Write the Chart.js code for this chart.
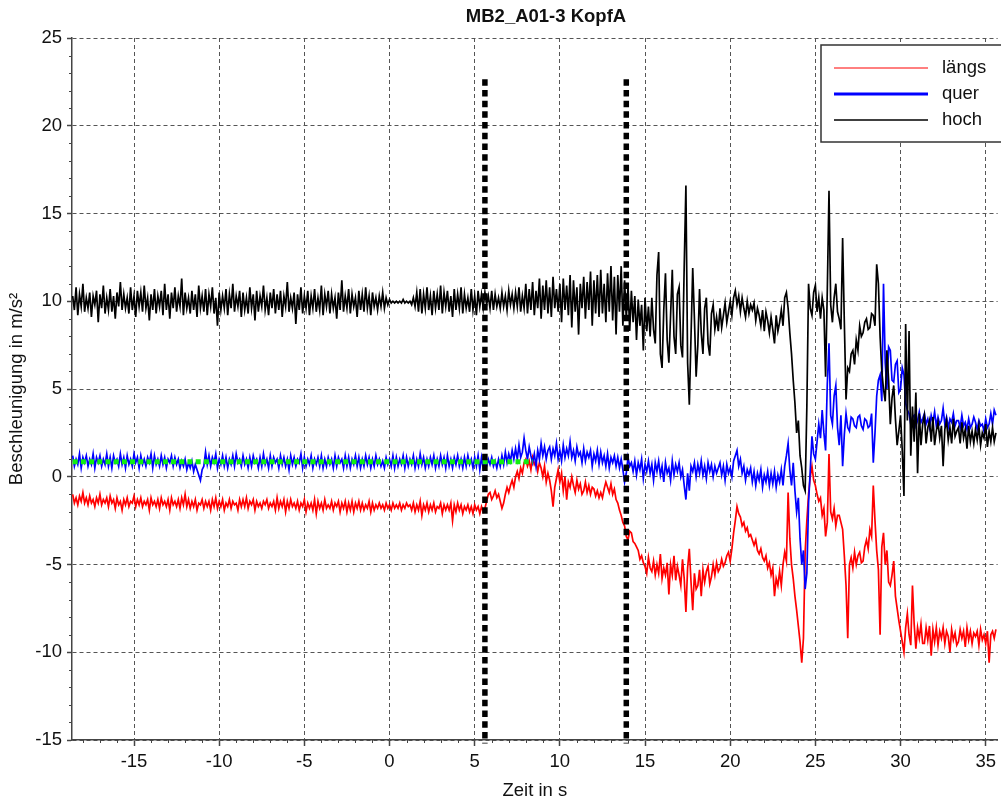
<!DOCTYPE html>
<html>
<head>
<meta charset="utf-8">
<title>MB2_A01-3 KopfA</title>
<script src="https://cdn.jsdelivr.net/npm/chart.js@4.4.0/dist/chart.umd.min.js"></script>
<style>
  html, body { margin: 0; padding: 0; background: #fff; }
  canvas { display: block; }
</style>
</head>
<body>
<canvas id="chart" width="1001" height="803"></canvas>
<script>
// sampling of the recorded signals (seconds)
const tStart = -18.6;
const tStep = 0.1;

// längs (red), one row = 1 s
const laengs = [
  -1.0, -1.5, -1.2, -1.6, -1.1, -1.4, -0.9, -1.5, -1.2, -1.6,
  -1.1, -1.5, -1.3, -1.7, -1.2, -1.5, -1.0, -1.6, -1.3, -1.5,
  -1.2, -1.7, -1.1, -1.5, -1.3, -1.8, -1.2, -1.6, -1.4, -1.9,
  -1.3, -1.6, -1.2, -1.7, -1.4, -1.5, -1.1, -1.7, -1.3, -1.6,
  -1.2, -1.7, -1.4, -1.6, -1.3, -1.9, -1.2, -1.6, -1.4, -1.7,
  -1.3, -1.8, -1.2, -1.6, -1.4, -1.7, -1.3, -1.9, -1.2, -1.6,
  -1.4, -1.7, -1.3, -1.8, -1.2, -1.6, -1.0, -1.7, -1.3, -1.8,
  -1.4, -1.7, -1.3, -1.9, -1.5, -1.6, -1.3, -1.8, -1.4, -1.7,
  -1.4, -1.9, -1.3, -1.7, -1.2, -1.8, -1.4, -1.7, -1.3, -1.9,
  -1.5, -1.7, -1.3, -1.8, -1.4, -1.6, -1.5, -1.9, -1.3, -1.7,
  -1.3, -1.7, -1.2, -1.8, -1.4, -1.6, -1.3, -1.9, -1.4, -1.7,
  -1.5, -1.8, -1.4, -1.6, -1.3, -1.8, -1.5, -1.7, -1.4, -1.9,
  -1.2, -1.8, -1.4, -1.7, -1.3, -2.0, -1.4, -1.8, -1.3, -1.7,
  -1.5, -1.8, -1.4, -1.9, -1.5, -1.7, -1.3, -2.0, -1.5, -1.8,
  -1.5, -1.9, -1.3, -2.1, -1.4, -1.8, -1.5, -1.9, -1.3, -1.8,
  -1.6, -1.8, -1.4, -1.9, -1.5, -1.7, -1.4, -2.0, -1.5, -1.8,
  -1.4, -2.0, -1.5, -1.9, -1.4, -2.0, -1.5, -1.8, -1.4, -1.9,
  -1.5, -1.9, -1.6, -1.8, -1.4, -2.0, -1.5, -1.9, -1.6, -1.8,
  -1.5, -1.8, -1.6, -1.9, -1.5, -1.8, -1.6, -1.9, -1.5, -1.8,
  -1.6, -1.8, -1.5, -1.9, -1.6, -1.8, -1.5, -1.7, -1.6, -1.9,
  -1.5, -2.0, -1.6, -1.9, -1.4, -2.2, -1.6, -1.9, -1.5, -2.0,
  -1.6, -1.9, -1.5, -2.0, -1.7, -1.8, -1.5, -2.1, -1.6, -1.9,
  -1.6, -1.9, -1.5, -2.5, -1.6, -2.0, -1.5, -1.9, -1.6, -2.1,
  -1.7, -1.9, -1.6, -2.0, -1.7, -2.1, -1.6, -1.9, -1.7, -2.1,
  -1.7, -2.0, -1.8, -1.4, -1.0, -0.9, -1.3, -1.1, -0.8, -1.2,
  -1.0, -1.4, -1.8, -1.5, -1.0, -0.6, -0.9, -0.5, -0.2, -0.6,
  0.0, 0.3, -0.1, 0.5, 0.2, 0.8, 1.0, 0.6, 0.9, 0.4,
  1.1, 0.7, 0.9, 0.3, 0.8, 0.5, 0.0, 0.6, -0.3, 0.2,
  -0.2, -0.8, -1.7, -0.6, -0.1, 0.4, -0.3, 0.2, -0.8, 0.0,
  -1.3, -0.3, -0.6, 0.0, -0.5, -0.9, -0.2, -0.7, -0.4, -1.0,
  -0.8, -0.3, -0.9, -0.5, -1.0, -0.6, -0.7, -1.1, -0.8, -1.2,
  -0.9, -1.2, -0.7, -0.3, -0.6, -0.9, -0.4, -1.0, -0.7, -1.3,
  -1.5, -1.9, -2.2, -2.6, -2.8, -3.4, -3.6, -3.1, -3.2, -3.7,
  -3.8, -4.0, -4.2, -4.7, -4.5, -4.9, -5.1, -5.5, -4.6, -5.2,
  -5.4, -4.8, -5.6, -5.0, -5.5, -4.4, -5.8, -5.2, -5.6, -4.9,
  -6.7, -5.0, -5.6, -4.5, -5.9, -5.1, -5.6, -6.2, -4.7, -5.8,
  -7.7, -5.2, -4.1, -6.0, -7.6, -5.5, -6.4, -6.2, -5.3, -6.8,
  -5.3, -6.0, -5.4, -5.1, -6.1, -5.7, -5.0, -5.6, -4.9, -5.4,
  -5.2, -4.7, -5.1, -4.9, -4.5, -4.3, -4.8, -4.1, -3.2, -2.5,
  -1.7, -2.1, -2.3, -2.8, -2.6, -3.1, -2.9, -3.4, -3.3, -3.6,
  -3.9, -3.6, -4.2, -4.4, -4.1, -4.6, -4.8, -4.5, -5.2, -4.9,
  -5.6, -5.2, -6.8, -5.8, -6.2, -5.4, -6.2, -5.0, -4.3, -4.8,
  -0.9, -3.5, -5.0, -5.8, -6.8, -7.6, -8.5, -9.4, -10.6, -9.2,
  -4.3, -2.5, -1.0, 0.0, 0.6, -0.2, -0.5, -1.0, -1.4, -1.2,
  -2.2, -1.8, -3.4, -2.6, 1.3, -2.0, -2.4, -1.8, -2.8, -2.2,
  -2.2, -2.6, -3.0, -4.5, -6.2, -9.2, -5.0, -4.6, -5.2, -4.3,
  -5.0, -4.5, -4.3, -4.9, -4.8, -4.0, -3.6, -4.1, -3.0, -3.4,
  -0.5, -2.5, -4.2, -5.3, -9.0, -4.0, -3.2, -5.0, -4.2, -6.0,
  -6.2, -5.6, -4.8, -6.8, -7.5, -8.2, -8.8, -9.4, -10.0, -8.6,
  -7.8, -9.0, -9.6, -6.2, -8.4, -9.8, -8.6, -9.2, -8.4, -9.5,
  -9.5, -8.6, -9.3, -8.5, -10.2, -8.7, -9.4, -8.6, -9.6, -8.8,
  -9.2, -8.6, -9.5, -8.8, -9.1, -10.0, -8.7, -9.3, -8.9, -9.6,
  -9.4, -8.7, -9.2, -8.8, -9.7, -8.6, -9.3, -8.8, -9.5, -8.9,
  -9.1, -8.8, -9.6, -8.7, -9.3, -9.0, -9.5, -8.8, -10.6, -9.0,
  -8.8, -9.2, -8.7
];

// quer (blue)
const quer = [
  1.2, 0.6, 1.0, 0.7, 1.3, 0.5, 1.1, 0.8, 1.2, 0.6,
  1.0, 0.7, 1.3, 0.5, 1.1, 0.8, 1.2, 0.6, 1.0, 0.7,
  1.3, 0.6, 1.1, 0.5, 1.2, 0.8, 1.0, 0.6, 1.3, 0.7,
  1.1, 0.5, 1.2, 0.7, 1.0, 0.6, 1.3, 0.8, 1.1, 0.5,
  1.2, 0.7, 1.0, 0.6, 1.1, 0.8, 1.3, 0.5, 1.2, 0.7,
  1.0, 0.6, 1.2, 0.7, 1.1, 0.5, 1.0, 0.8, 1.2, 0.6,
  1.1, 0.7, 1.0, 0.5, 0.9, 0.6, 1.0, 0.4, 0.8, 0.5,
  0.9, 0.3, 0.7, 0.4, 0.1, -0.2, 0.4, 0.6, 1.4, 0.7,
  1.2, 0.6, 1.1, 0.8, 1.3, 0.5, 1.0, 0.7, 1.2, 0.6,
  1.1, 0.5, 1.0, 0.7, 1.2, 0.6, 1.3, 0.8, 1.0, 0.6,
  1.2, 0.7, 1.0, 0.5, 1.1, 0.6, 1.2, 0.8, 1.0, 0.5,
  1.1, 0.6, 1.3, 0.7, 1.0, 0.5, 1.2, 0.6, 1.1, 0.8,
  1.0, 0.5, 1.2, 0.7, 1.1, 0.6, 1.0, 0.4, 1.2, 0.7,
  1.1, 0.6, 1.0, 0.8, 1.3, 0.5, 1.1, 0.6, 1.0, 0.7,
  1.2, 0.5, 1.0, 0.7, 1.1, 0.6, 1.2, 0.5, 1.0, 0.6,
  1.1, 0.7, 1.0, 0.5, 1.2, 0.6, 1.1, 0.8, 1.0, 0.5,
  1.2, 0.6, 1.1, 0.5, 1.0, 0.7, 1.2, 0.6, 1.1, 0.5,
  1.0, 0.6, 1.2, 0.7, 1.1, 0.5, 1.0, 0.6, 1.2, 0.7,
  1.0, 0.6, 0.9, 0.5, 1.1, 0.7, 1.0, 0.6, 1.2, 0.5,
  1.1, 0.6, 1.0, 0.7, 1.2, 0.5, 1.1, 0.6, 1.0, 0.7,
  1.2, 0.5, 1.0, 0.6, 1.3, 0.7, 1.1, 0.5, 1.0, 0.6,
  1.1, 0.7, 1.2, 0.5, 1.0, 0.6, 1.2, 0.7, 1.1, 0.5,
  1.2, 0.6, 1.0, 0.5, 1.1, 0.7, 1.2, 0.6, 1.0, 0.5,
  1.1, 0.6, 1.2, 0.7, 1.0, 0.5, 1.1, 0.6, 1.2, 0.4,
  1.1, 0.5, 0.9, 0.6, 1.0, 0.7, 1.1, 0.6, 0.9, 0.5,
  1.0, 0.6, 1.2, 0.7, 1.4, 0.8, 1.3, 0.9, 1.5, 1.0,
  1.6, 1.0, 1.8, 1.1, 1.4, 2.2, 1.5, 1.0, 1.7, 1.2,
  0.8, 1.3, 0.6, 1.5, 1.0, 1.9, 1.2, 1.7, 1.0, 1.5,
  1.7, 1.0, 1.6, 1.2, 1.9, 1.0, 1.5, 0.9, 1.8, 1.1,
  1.6, 1.2, 2.0, 1.1, 1.5, 0.9, 1.7, 1.2, 1.4, 0.8,
  1.6, 0.9, 1.4, 1.1, 1.5, 0.6, 1.3, 0.9, 1.5, 0.7,
  1.4, 0.8, 1.2, 0.6, 1.3, 0.5, 1.1, 0.8, 1.2, 0.6,
  1.1, 0.5, 1.0, 0.4, -0.3, 0.2, 1.1, 0.6, 0.8, 0.3,
  0.9, 0.1, 0.8, 0.4, 1.0, -0.1, 0.7, 0.3, 0.9, 0.2,
  0.7, -0.2, 0.8, 0.3, 0.9, 0.1, 0.6, -0.3, 0.8, 0.2,
  0.5, -0.2, 0.9, 0.1, 0.7, 0.3, 0.8, 0.0, 0.4, -0.5,
  -1.3, 0.2, -0.8, 0.6, 0.3, 0.8, 0.0, 0.7, 0.2, 0.9,
  0.1, 0.6, -0.1, 0.8, 0.3, 0.7, 0.0, 0.6, 0.2, 0.5,
  0.8, 0.1, 0.6, -0.2, 0.7, 0.2, 0.5, 0.0, 0.9, 1.2,
  1.5, 0.6, 1.0, 0.2, 0.6, -0.2, 0.4, 0.1, 0.5, -0.3,
  0.3, -0.5, 0.2, -0.2, 0.4, -0.6, 0.1, -0.3, 0.3, -0.5,
  0.2, -0.4, 0.3, -0.6, 0.1, -0.3, 0.4, -0.5, 0.6, 1.2,
  1.9, 0.4, -0.5, 0.8, -0.8, -2.0, -1.2, -3.5, -5.0, -4.2,
  -6.4, -5.5, -1.5, 0.4, 2.3, 1.3, 1.0, 2.0, 3.0, 2.2,
  3.8, 2.5, 1.5, 5.3, 7.6, 3.5, 3.0, 4.6, 5.2, 2.8,
  1.8, 3.5, 0.6, 2.4, 3.6, 2.8, 2.6, 3.4, 3.3, 2.9,
  2.8, 3.4, 3.5, 2.9, 2.7, 3.3, 3.2, 2.8, 2.9, 3.6,
  0.8, 2.5, 4.6, 5.5, 5.8, 4.3, 11.0, 6.5, 5.0, 7.4,
  7.2, 5.5, 5.4, 6.4, 6.6, 4.8, 5.0, 6.2, 5.8, 4.2,
  3.8, 3.6, 3.0, 3.4, 3.5, 2.9, 3.2, 3.7, 3.1, 3.3,
  3.6, 3.0, 3.3, 2.8, 3.5, 3.1, 3.7, 2.9, 3.4, 3.0,
  3.2, 3.9, 3.0, 3.4, 2.8, 3.3, 3.1, 3.6, 2.9, 3.2,
  3.2, 2.8, 3.5, 2.9, 3.1, 2.7, 3.3, 2.8, 3.0, 3.4,
  3.1, 2.7, 3.2, 2.9, 3.0, 2.6, 3.3, 2.8, 3.0, 3.6,
  3.0, 3.8, 3.5
];

// hoch (black)
const hoch = [
  10.3, 9.5, 10.8, 9.2, 10.4, 9.7, 11.0, 9.4, 10.2, 9.6,
  10.5, 9.1, 10.3, 9.8, 10.6, 8.8, 10.4, 9.6, 10.9, 9.3,
  10.2, 9.5, 10.7, 9.4, 10.3, 9.0, 10.5, 9.7, 11.1, 9.5,
  10.4, 9.6, 10.2, 9.3, 10.8, 9.5, 10.3, 9.1, 10.6, 9.7,
  10.5, 9.4, 10.9, 9.6, 10.2, 8.9, 10.4, 9.5, 10.7, 9.3,
  10.3, 9.7, 10.6, 9.2, 11.0, 9.5, 10.4, 9.0, 10.5, 9.6,
  10.8, 9.4, 10.3, 9.7, 11.3, 9.2, 10.5, 9.6, 10.2, 9.3,
  10.6, 9.5, 10.4, 9.1, 10.9, 9.6, 10.3, 9.4, 10.7, 9.2,
  10.4, 9.7, 10.8, 9.3, 10.2, 8.6, 10.5, 9.5, 10.3, 9.6,
  10.7, 9.2, 10.4, 9.6, 11.0, 9.4, 10.3, 9.7, 10.6, 9.1,
  10.5, 9.5, 10.2, 9.3, 10.8, 9.6, 10.4, 8.9, 10.6, 9.4,
  10.3, 9.7, 10.9, 9.5, 10.2, 9.2, 10.5, 9.6, 10.7, 9.3,
  10.4, 9.5, 10.6, 9.1, 10.3, 9.7, 11.1, 9.4, 10.2, 9.6,
  10.5, 8.7, 10.4, 9.5, 10.8, 9.3, 10.3, 9.6, 10.6, 9.2,
  10.3, 9.6, 10.7, 9.4, 10.2, 9.5, 10.9, 9.2, 10.4, 9.7,
  10.6, 9.3, 10.4, 9.6, 10.2, 9.0, 10.5, 9.5, 11.2, 9.4,
  10.3, 9.6, 10.7, 9.3, 10.4, 9.7, 10.2, 9.1, 10.6, 9.5,
  10.4, 9.4, 10.8, 9.6, 10.3, 9.2, 10.5, 9.7, 10.2, 9.5,
  10.3, 9.7, 10.5, 9.6, 10.2, 9.8, 10.1, 9.9, 10.0, 9.9,
  10.0, 9.9, 10.0, 9.9, 10.1, 9.9, 10.0, 9.9, 10.0, 9.8,
  10.2, 9.7, 10.5, 9.4, 10.7, 9.3, 10.4, 9.6, 10.8, 9.5,
  10.3, 9.2, 10.6, 9.6, 10.4, 9.5, 10.9, 9.3, 10.5, 9.7,
  10.6, 9.4, 10.3, 9.1, 10.7, 9.5, 10.4, 9.6, 10.8, 9.3,
  10.4, 9.6, 10.2, 9.4, 10.7, 9.5, 10.3, 9.2, 10.6, 9.7,
  10.4, 9.6, 10.5, 9.8, 10.3, 9.6, 10.6, 9.5, 10.4, 9.7,
  10.2, 9.6, 10.5, 9.7, 10.3, 9.5, 10.6, 9.8, 10.4, 9.6,
  10.5, 9.7, 10.8, 9.4, 10.3, 9.6, 11.0, 9.3, 10.7, 9.5,
  11.1, 9.2, 10.6, 9.6, 11.3, 9.0, 10.9, 9.5, 11.2, 9.3,
  10.8, 9.1, 11.4, 9.6, 10.7, 9.4, 11.0, 8.8, 11.3, 9.5,
  10.9, 9.2, 11.5, 8.5, 11.2, 9.4, 10.8, 8.1, 11.0, 9.6,
  11.4, 9.0, 11.1, 9.5, 11.7, 8.6, 11.2, 9.3, 11.5, 9.1,
  11.8, 9.3, 11.0, 8.8, 11.6, 9.4, 12.0, 8.9, 11.4, 8.1,
  11.5, 9.4, 12.0, 8.6, 11.2, 9.0, 10.9, 8.3, 10.6, 8.8,
  10.3, 7.8, 10.1, 8.6, 9.8, 7.2, 10.2, 8.3, 9.7, 8.0,
  10.2, 8.4, 7.6, 11.5, 12.8, 7.0, 6.2, 9.5, 11.6, 7.8,
  6.5, 9.2, 11.8, 8.0, 7.0, 10.4, 10.8, 7.5, 6.8, 12.0,
  16.6, 6.5, 4.1, 8.0, 11.9, 9.0, 5.7, 7.5, 10.7, 8.2,
  7.0, 9.6, 10.2, 7.6, 6.9, 9.3, 9.8, 8.4, 9.1, 8.3,
  9.6, 8.5, 9.2, 9.9, 8.8, 9.4, 10.0, 9.2, 10.2, 10.6,
  9.8, 10.3, 9.4, 10.2, 9.6, 9.1, 10.0, 9.3, 9.8, 9.5,
  9.9, 8.9, 9.6, 9.2, 8.6, 9.5, 8.3, 9.4, 8.9, 8.2,
  9.1, 8.4, 7.6, 9.2, 8.3, 8.8, 9.5, 8.6, 10.2, 10.5,
  9.6, 8.2, 7.0, 5.5, 4.2, 2.5, 3.2, 1.2, 0.5, -0.5,
  -0.8, 4.0, 11.0, 9.6, 9.2, 10.5, 10.9, 9.4, 10.2, 9.0,
  10.2, 9.5, 5.7, 10.6, 16.3, 9.8, 8.8, 10.2, 11.0, 9.4,
  9.0, 8.4, 13.6, 8.8, 4.4, 6.2, 6.0, 7.0, 7.2, 6.4,
  7.8, 7.2, 8.6, 8.0, 8.2, 8.8, 9.0, 8.4, 8.5, 9.3,
  9.2, 8.6, 12.1, 11.0, 8.0, 6.0, 5.0, 4.3, 7.2, 5.5,
  3.0, 4.5, 5.2, 3.3, 1.8, 2.6, 3.5, 1.5, -1.1, 8.7,
  3.2, 8.3, 1.2, 4.0, 2.0, 4.8, 0.2, 3.6, 1.8, 3.0,
  3.5, 1.9, 2.8, 3.2, 2.0, 3.4, 1.8, 2.6, 3.1, 2.2,
  2.9, 0.6, 2.7, 3.2, 2.1, 2.8, 1.9, 3.3, 2.3, 2.6,
  2.8, 1.9, 3.1, 2.2, 2.7, 1.6, 2.9, 2.0, 2.6, 1.9,
  2.7, 2.1, 2.9, 1.8, 2.5, 2.2, 3.0, 1.7, 2.6, 2.0,
  2.8, 2.0, 2.5
];

// event markers (dotted black) and reference level (dotted green)
const markerTimes = [5.6, 13.9];
const markerTop = 22.65;
const refLevel = 0.85;
const refEnd = 8.4;

const xTickValues = [-15, -10, -5, 0, 5, 10, 15, 20, 25, 30, 35];
const yTickValues = [-15, -10, -5, 0, 5, 10, 15, 20, 25];
const xMin = -18.64, xMax = 35.7;
const yMin = -15, yMax = 25;

const FONT = "'Liberation Sans', Arial, Helvetica, sans-serif";
Chart.defaults.font.family = FONT;
Chart.defaults.font.size = 18.5;
Chart.defaults.color = '#111';

const sampleTimes = hoch.map((_, i) => tStart + i * tStep);
function toPoints(values) {
  return values.map((v, i) => ({ x: sampleTimes[i], y: v }));
}

function lineSeries(label, values, color, order) {
  return {
    label,
    data: toPoints(values),
    borderColor: color,
    borderWidth: 1.7,
    pointRadius: 0,
    tension: 0,
    order
  };
}

const datasets = [
  lineSeries('längs', laengs, '#ff0000', 4),
  lineSeries('quer', quer, '#0000ff', 3),
  lineSeries('hoch', hoch, '#000000', 2),
  {
    label: 'ref',
    data: [{ x: tStart, y: refLevel }, { x: refEnd, y: refLevel }],
    borderColor: '#11ee11',
    borderWidth: 5,
    borderDash: [5, 3.2],
    pointRadius: 0,
    order: 1
  }
];
markerTimes.forEach(t => {
  datasets.push({
    label: 'marker',
    data: [{ x: t, y: markerTop }, { x: t, y: yMin - 0.2 }],
    borderColor: '#000',
    borderWidth: 5.5,
    borderDash: [6.5, 4.2],
    pointRadius: 0,
    clip: false,
    order: 0
  });
});

// legend entries with their own line widths
const legendItems = [
  { label: 'längs', color: '#ff0000', width: 1 },
  { label: 'quer', color: '#0000ff', width: 3 },
  { label: 'hoch', color: '#000000', width: 1.5 }
];

const decorations = {
  id: 'decorations',
  afterDraw(chart) {
    const { ctx, chartArea, scales: { x, y } } = chart;
    ctx.save();

    // minor ticks every 1 unit
    ctx.strokeStyle = '#444';
    ctx.lineWidth = 1;
    ctx.beginPath();
    for (let v = Math.ceil(x.min); v <= x.max; v++) {
      if (v % 5 === 0) continue;
      const px = Math.round(x.getPixelForValue(v)) + 0.5;
      ctx.moveTo(px, chartArea.bottom);
      ctx.lineTo(px, chartArea.bottom + 3);
    }
    for (let v = yMin; v <= yMax; v++) {
      if (v % 5 === 0) continue;
      const py = Math.round(y.getPixelForValue(v)) + 0.5;
      ctx.moveTo(chartArea.left, py);
      ctx.lineTo(chartArea.left - 3, py);
    }
    ctx.stroke();

    // title
    ctx.fillStyle = '#111';
    ctx.font = 'bold 18.5px ' + FONT;
    ctx.textAlign = 'center';
    ctx.textBaseline = 'middle';
    ctx.fillText('MB2_A01-3 KopfA', 546, 17);

    // legend box
    const bx = 821, by = 45, bw = 200, bh = 97;
    ctx.fillStyle = '#fff';
    ctx.fillRect(bx, by, bw, bh);
    ctx.strokeStyle = '#333';
    ctx.lineWidth = 1.5;
    ctx.strokeRect(bx, by, bw, bh);
    ctx.font = '18.5px ' + FONT;
    ctx.textAlign = 'left';
    legendItems.forEach((item, i) => {
      const ly = 68 + i * 26;
      ctx.strokeStyle = item.color;
      ctx.lineWidth = item.width;
      ctx.beginPath();
      ctx.moveTo(834, ly);
      ctx.lineTo(928, ly);
      ctx.stroke();
      ctx.fillStyle = '#111';
      ctx.fillText(item.label, 942, ly);
    });
    ctx.restore();
  }
};

new Chart(document.getElementById('chart'), {
  type: 'line',
  data: { datasets },
  options: {
    responsive: false,
    animation: false,
    normalized: true,
    events: [],
    layout: { padding: { top: 38, left: 0, right: 0, bottom: 0 } },
    plugins: {
      legend: { display: false },
      title: { display: false },
      tooltip: { enabled: false }
    },
    scales: {
      x: {
        type: 'linear',
        min: xMin,
        max: xMax,
        afterBuildTicks: scale => { scale.ticks = xTickValues.map(value => ({ value })); },
        afterFit: scale => { scale.height = 63; },
        ticks: { padding: 5, color: '#111', maxRotation: 0, callback: v => String(v) },
        grid: { color: '#555', lineWidth: 1, tickLength: 6, tickColor: '#444', tickWidth: 1.5 },
        border: { color: '#444', width: 1.5, dash: [4, 3] },
        title: { display: true, text: 'Zeit in s', color: '#111', padding: { top: 0, bottom: 1 } }
      },
      y: {
        type: 'linear',
        min: yMin,
        max: yMax,
        afterBuildTicks: scale => { scale.ticks = yTickValues.map(value => ({ value })); },
        afterFit: scale => { scale.width = 72; },
        ticks: { padding: 5, color: '#111', callback: v => String(v) },
        grid: { color: '#555', lineWidth: 1, tickLength: 5, tickColor: '#444', tickWidth: 1.5 },
        border: { color: '#444', width: 1.5, dash: [4, 3] },
        title: { display: true, text: 'Beschleunigung in m/s²', color: '#111', padding: { top: 6, bottom: 0 } }
      }
    }
  },
  plugins: [decorations]
});
</script>
</body>
</html>
